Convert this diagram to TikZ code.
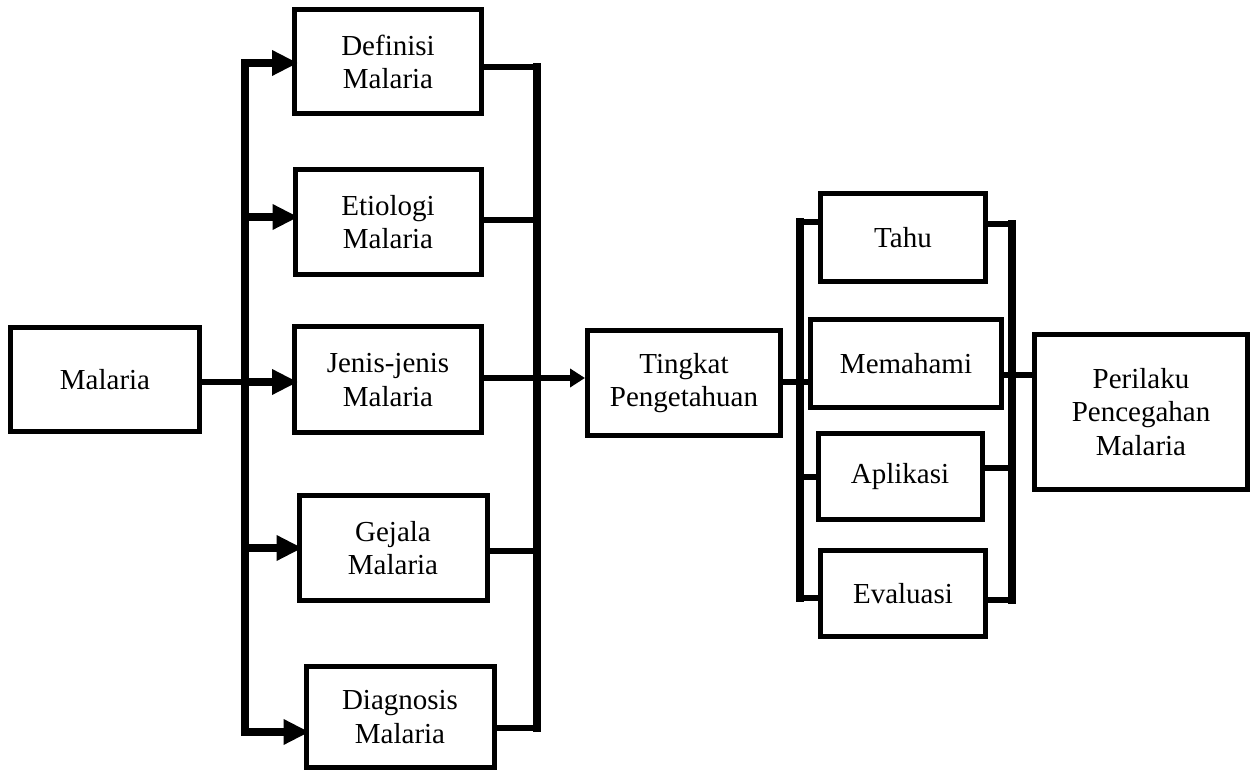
\documentclass[tikz,border=0pt]{standalone}
\usepackage{fontspec}
\setmainfont{Liberation Serif}
\usetikzlibrary{arrows.meta,positioning,calc}

\begin{document}
\begin{tikzpicture}[x=0.5pt, y=-0.5pt,
    box/.style={draw, line width=2.5pt, align=center, inner sep=0pt,
        font=\fontsize{14.5}{16.6}\selectfont},
    sz/.style 2 args={minimum width=#1*0.5pt-2.5pt, minimum height=#2*0.5pt-2.5pt},
    bus/.style={line width=3.6pt, line cap=rect},
    stub/.style={line width=2.6pt},
    arr/.style={line width=3.6pt, shorten >=-3pt, -{Triangle[length=13pt,width=12pt]}},
    arrsmall/.style={line width=2.6pt, -{Triangle[length=7.5pt,width=9pt]}}]
    \useasboundingbox (0,0) rectangle (1259,774);

    % kotak
    \node[box, sz={194}{109}] (mal) at (105,380) {Malaria};
    \node[box, sz={192}{109}] (def) at (388,62) {Definisi\\Malaria};
    \node[box, sz={191}{110}] (eti) at (388,222) {Etiologi\\Malaria};
    \node[box, sz={192}{111}] (jen) at (388,380) {Jenis-jenis\\Malaria};
    \node[box, sz={193}{110}] (gej) at (393,548) {Gejala\\Malaria};
    \node[box, sz={193}{106}] (dia) at (400,717) {Diagnosis\\Malaria};
    \node[box, sz={198}{110}] (tin) at (684,383) {Tingkat\\Pengetahuan};
    \node[box, sz={170}{93}] (tah) at (903,238) {Tahu};
    \node[box, sz={196}{93}] (mem) at (906,364) {Memahami};
    \node[box, sz={169}{91}] (apl) at (900,477) {Aplikasi};
    \node[box, sz={170}{91}] (eva) at (903,594) {Evaluasi};
    \node[box, sz={218}{160}] (per) at (1141,412) {Perilaku\\Pencegahan\\Malaria};

    % titik bus
    \coordinate (a1) at (245,63);  \coordinate (a2) at (245,217);
    \coordinate (a3) at (245,382); \coordinate (a4) at (245,548);
    \coordinate (a5) at (245,732);
    \coordinate (b1) at (537,67);  \coordinate (b2) at (537,220);
    \coordinate (b3) at (537,378); \coordinate (b4) at (537,551);
    \coordinate (b5) at (537,728);
    \coordinate (c1) at (800,222); \coordinate (c2) at (800,382);
    \coordinate (c3) at (800,477); \coordinate (c4) at (800,598);
    \coordinate (d1) at (1012,224); \coordinate (d2) at (1012,375);
    \coordinate (d3) at (1012,468); \coordinate (d4) at (1012,600);

    \draw[stub] (mal.east |- a3) -- (a3);
    \draw[bus] (a1) -- (a5);
    \foreach \i/\n in {1/def,2/eti,3/jen,4/gej,5/dia}
        \draw[arr] (a\i) -- (a\i -| \n.west);

    \draw[bus] (b1) -- (b5);
    \foreach \i/\n in {1/def,2/eti,3/jen,4/gej,5/dia}
        \draw[stub] (b\i -| \n.east) -- (b\i);
    \draw[arrsmall] (b3) -- (b3 -| tin.west);

    \draw[bus] (c1) -- (c4);
    \draw[stub] (tin.east |- c2) -- (c2 -| mem.west);
    \foreach \i/\n in {1/tah,3/apl,4/eva}
        \draw[stub] (c\i) -- (c\i -| \n.west);

    \draw[bus] (d1) -- (d4);
    \foreach \i/\n in {1/tah,3/apl,4/eva}
        \draw[stub] (d\i -| \n.east) -- (d\i);
    \draw[stub] (d2 -| mem.east) -- (d2 -| per.west);
\end{tikzpicture}
\end{document}
